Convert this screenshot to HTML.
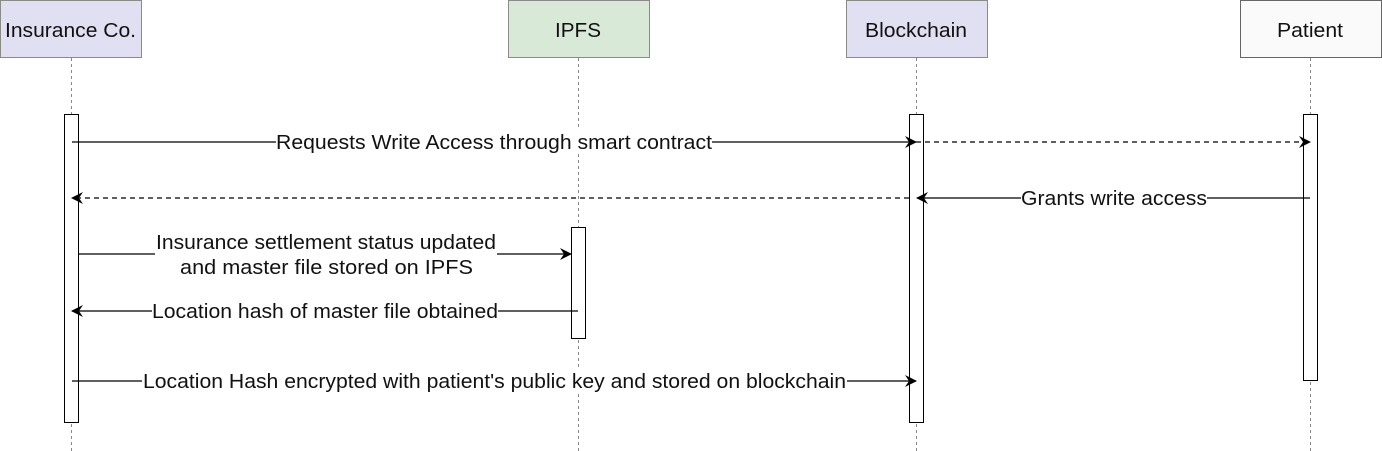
<!DOCTYPE html>
<html><head><meta charset="utf-8"><style>
html,body{margin:0;padding:0;background:#fff;width:1382px;height:451px;overflow:hidden}
text{font-family:"Liberation Sans",Arial,sans-serif;font-size:20px;fill:#111}
</style></head><body>
<svg width="1382" height="451" viewBox="0 0 1382 451" xmlns="http://www.w3.org/2000/svg">
<defs>
<marker id="a" viewBox="0 0 12 12" refX="11" refY="6" markerWidth="12" markerHeight="12" markerUnits="userSpaceOnUse" orient="auto"><path d="M0,0 L12,6 L0,12 L4,6 Z" fill="#000"/></marker>
</defs>
<rect x="0.5" y="0.5" width="141" height="57" fill="#e1dff2" stroke="#8a8a8a"/>
<text x="5" y="37" textLength="131" lengthAdjust="spacingAndGlyphs">Insurance Co.</text>
<rect x="508.5" y="0.5" width="141" height="57" fill="#d9e9d7" stroke="#8a8a8a"/>
<text x="555" y="37" textLength="46" lengthAdjust="spacingAndGlyphs">IPFS</text>
<rect x="846.5" y="0.5" width="141" height="57" fill="#e1dff2" stroke="#8a8a8a"/>
<text x="865" y="37" textLength="102" lengthAdjust="spacingAndGlyphs">Blockchain</text>
<rect x="1240.5" y="0.5" width="141" height="57" fill="#fafafa" stroke="#666"/>
<text x="1277" y="37" textLength="66" lengthAdjust="spacingAndGlyphs">Patient</text>
<g stroke="#888" stroke-dasharray="3,3" stroke-width="1">
<line x1="71.5" y1="58" x2="71.5" y2="451"/>
<line x1="578.5" y1="58" x2="578.5" y2="451"/>
<line x1="916.5" y1="58" x2="916.5" y2="451"/>
<line x1="1310.5" y1="58" x2="1310.5" y2="451"/>
</g>
<g fill="#fff" stroke="#000" stroke-width="1">
<rect x="64.5" y="114.5" width="14" height="308"/>
<rect x="571.5" y="227.5" width="14" height="111"/>
<rect x="909.5" y="114.5" width="14" height="308"/>
<rect x="1303.5" y="114.5" width="14" height="266"/>
</g>
<g stroke="#000" stroke-width="1.3" fill="none">
<line x1="72" y1="142" x2="916" y2="142" marker-end="url(#a)"/>
<line x1="916" y1="142" x2="1310" y2="142" stroke-dasharray="5,4" marker-end="url(#a)"/>
<line x1="909" y1="198" x2="72" y2="198" stroke-dasharray="5,4" marker-end="url(#a)"/>
<line x1="1310" y1="198" x2="917" y2="198" marker-end="url(#a)"/>
<line x1="79" y1="254" x2="571" y2="254" marker-end="url(#a)"/>
<line x1="578" y1="311" x2="72" y2="311" marker-end="url(#a)"/>
<line x1="72" y1="381" x2="916" y2="381" marker-end="url(#a)"/>
</g>
<g fill="#fff">
<rect x="276" y="130" width="436" height="24"/>
<rect x="1021" y="186" width="186" height="24"/>
<rect x="155" y="230" width="342" height="48"/>
<rect x="152" y="299" width="346" height="24"/>
<rect x="142" y="369" width="705" height="24"/>
</g>
<text x="276" y="149" textLength="436" lengthAdjust="spacingAndGlyphs">Requests Write Access through smart contract</text>
<text x="1021" y="205" textLength="186" lengthAdjust="spacingAndGlyphs">Grants write access</text>
<text x="156" y="249" textLength="340" lengthAdjust="spacingAndGlyphs">Insurance settlement status updated</text>
<text x="180" y="274" textLength="293" lengthAdjust="spacingAndGlyphs">and master file stored on IPFS</text>
<text x="152" y="318" textLength="346" lengthAdjust="spacingAndGlyphs">Location hash of master file obtained</text>
<text x="143" y="388" textLength="703" lengthAdjust="spacingAndGlyphs">Location Hash encrypted with patient's public key and stored on blockchain</text>
</svg>
</body></html>
